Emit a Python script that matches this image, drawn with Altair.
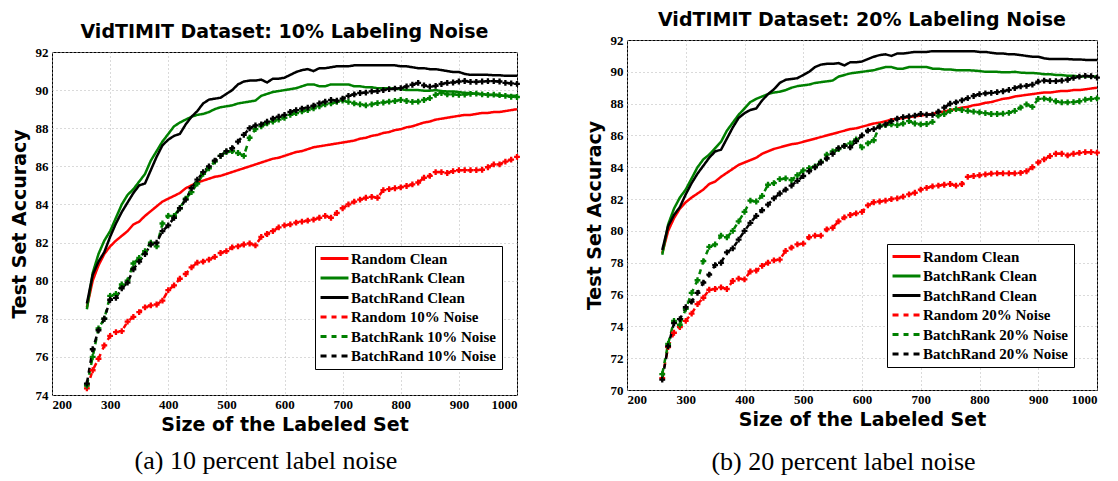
import altair as alt
import pandas as pd

x_vals = list(range(260, 1001, 10))
x_ticks = [200, 300, 400, 500, 600, 700, 800, 900, 1000]
y_ticks_a = [74, 76, 78, 80, 82, 84, 86, 88, 90, 92]
y_ticks_b = [70, 72, 74, 76, 78, 80, 82, 84, 86, 88, 90, 92]

random_clean = [
    78.6, 80.0, 80.8, 81.4, 81.8, 82.1, 82.35, 82.6, 82.95, 83.1,
    83.4, 83.65, 83.9, 84.15, 84.3, 84.45, 84.6, 84.85, 85.0, 85.15,
    85.25, 85.35, 85.45, 85.5, 85.6, 85.7, 85.8, 85.9, 86.0, 86.1,
    86.2, 86.3, 86.4, 86.45, 86.55, 86.65, 86.75, 86.8, 86.9, 87.0,
    87.05, 87.1, 87.15, 87.2, 87.25, 87.3, 87.35, 87.45, 87.5, 87.6,
    87.65, 87.75, 87.8, 87.9, 87.95, 88.05, 88.1, 88.2, 88.3, 88.35,
    88.45, 88.5, 88.55, 88.6, 88.65, 88.7, 88.7, 88.75, 88.8, 88.8,
    88.85, 88.85, 88.9, 88.95, 89.0]
batchrank_clean = [
    78.5, 80.4, 81.4, 82.1, 82.6, 83.3, 84.0, 84.5, 84.8, 85.2,
    85.6, 86.3, 86.8, 87.3, 87.7, 88.1, 88.3, 88.45, 88.6, 88.7,
    88.75, 88.85, 89.0, 89.1, 89.15, 89.2, 89.3, 89.35, 89.4, 89.45,
    89.7, 89.8, 89.9, 89.95, 90.0, 90.05, 90.1, 90.2, 90.3, 90.3,
    90.2, 90.2, 90.3, 90.3, 90.3, 90.3, 90.2, 90.2, 90.15, 90.15,
    90.1, 90.1, 90.1, 90.08, 90.05, 90.0, 90.0, 90.0, 89.97, 89.97,
    90.0, 89.95, 89.93, 89.93, 89.9, 89.85, 89.85, 89.8, 89.8, 89.75,
    89.75, 89.7, 89.7, 89.7, 89.7]
batchrand_clean = [
    78.8, 80.3, 81.0, 81.5, 82.3, 83.0, 83.6, 84.1, 84.6, 85.0,
    85.1, 85.8, 86.5, 87.1, 87.4, 87.6, 87.7, 88.2, 88.6, 88.9,
    89.3, 89.5, 89.55, 89.6, 89.8, 90.0, 90.3, 90.45, 90.5, 90.5,
    90.55, 90.4, 90.6, 90.6, 90.65, 90.8, 90.95, 91.05, 91.1, 91.0,
    91.15, 91.15, 91.2, 91.25, 91.25, 91.25, 91.3, 91.3, 91.3, 91.3,
    91.3, 91.3, 91.3, 91.3, 91.25, 91.25, 91.2, 91.15, 91.15, 91.1,
    91.1, 91.05, 91.0, 90.95, 90.95, 90.85, 90.8, 90.8, 90.8, 90.8,
    90.78, 90.78, 90.75, 90.75, 90.75]

random_n10 = [
    74.35, 75.3, 75.9, 76.6, 77.1, 77.3, 77.35, 77.85, 78.1, 78.35,
    78.6, 78.7, 78.75, 78.95, 79.5, 79.75, 80.1, 80.35, 80.7, 80.95,
    81.0, 81.1, 81.25, 81.45, 81.55, 81.75, 81.8, 81.9, 81.95, 81.85,
    82.3, 82.45, 82.6, 82.8, 82.9, 82.95, 83.05, 83.1, 83.15, 83.2,
    83.3, 83.4, 83.3, 83.55, 83.8, 84.0, 84.15, 84.25, 84.35, 84.4,
    84.35, 84.75, 84.8, 84.85, 84.9, 84.97, 85.05, 85.15, 85.4, 85.5,
    85.7, 85.7, 85.65, 85.75, 85.8, 85.8, 85.8, 85.8, 85.82, 85.95,
    86.1, 86.1, 86.25, 86.35, 86.5]
batchrank_n10 = [
    74.5, 76.0, 77.5, 78.0, 79.2, 79.3, 79.8, 80.0, 80.9, 81.2,
    81.55, 82.0, 81.8, 83.0, 83.4, 83.4, 83.8, 84.3, 84.65, 85.1,
    85.6, 85.9, 86.25, 86.55, 86.75, 86.8, 86.7, 86.55, 87.5, 87.95,
    88.1, 88.25, 88.35, 88.45, 88.55, 88.7, 88.8, 88.88, 88.95, 89.05,
    89.15, 89.25, 89.3, 89.38, 89.45, 89.38, 89.3, 89.25, 89.2, 89.25,
    89.32, 89.35, 89.4, 89.43, 89.48, 89.43, 89.38, 89.4, 89.48, 89.58,
    89.75, 89.85, 89.78, 89.78, 89.75, 89.77, 89.8, 89.82, 89.78, 89.75,
    89.76, 89.74, 89.7, 89.65, 89.64]
batchrand_n10 = [
    74.6, 76.4, 77.4, 78.0, 79.0, 79.1, 79.6, 79.9, 80.6, 81.0,
    81.4, 81.9, 82.0, 82.6, 82.9, 83.3, 83.8, 84.25, 84.85, 85.3,
    85.7, 86.0, 86.3, 86.55, 86.8, 86.95, 87.3, 87.65, 88.0, 88.15,
    88.2, 88.35, 88.5, 88.6, 88.7, 88.85, 88.95, 89.03, 89.08, 89.18,
    89.3, 89.4, 89.48, 89.45, 89.55, 89.7, 89.78, 89.85, 89.87, 89.93,
    89.95, 90.0, 90.05, 90.08, 90.1, 90.2, 90.28, 90.38, 90.25, 90.18,
    90.22, 90.32, 90.38, 90.4, 90.45, 90.48, 90.43, 90.43, 90.45, 90.47,
    90.47, 90.45, 90.38, 90.35, 90.33]

random_n20 = [
    70.75, 72.7, 73.6, 73.95, 74.35, 74.8, 75.4, 75.8, 76.3, 76.35,
    76.45, 76.35, 76.85, 77.0, 76.95, 77.45, 77.5, 77.8, 78.0, 78.15,
    78.2, 78.75, 78.95, 79.15, 79.2, 79.6, 79.7, 79.7, 80.1, 80.2,
    80.6, 80.85, 81.0, 81.1, 81.2, 81.6, 81.8, 81.85, 81.9, 82.0,
    82.05, 82.15, 82.3, 82.4, 82.6, 82.7, 82.8, 82.85, 82.9, 82.95,
    82.85, 82.95, 83.4, 83.45, 83.5, 83.55, 83.6, 83.62, 83.62, 83.62,
    83.62, 83.65, 83.75, 84.0, 84.3, 84.5, 84.7, 84.85, 84.85, 84.75,
    84.85, 84.9, 84.95, 84.95, 84.92]
batchrank_n20 = [
    71.0, 72.9, 74.35, 74.1, 75.1, 76.1, 76.9, 78.1, 79.0, 79.15,
    79.7, 79.6, 80.0, 80.6, 81.2, 81.9, 81.85, 82.2, 82.9, 83.0,
    83.25, 83.3, 83.2, 83.5, 83.8, 83.95, 84.05, 84.35, 84.8, 85.0,
    85.15, 85.35, 85.5, 85.75, 85.25, 85.5, 85.7, 86.6, 86.65, 86.7,
    86.65, 86.75, 86.9, 86.75, 86.7, 86.72, 86.85, 87.25, 87.35, 87.55,
    87.65, 87.6, 87.55, 87.5, 87.45, 87.4, 87.35, 87.35, 87.37, 87.42,
    87.55, 87.75, 87.95, 87.8, 88.3, 88.32, 88.25, 88.15, 88.08, 88.08,
    88.1, 88.15, 88.25, 88.3, 88.33]
batchrand_n20 = [
    70.65, 72.75, 74.2, 74.45, 75.2, 75.55, 76.1, 76.75, 77.25, 77.85,
    78.0, 78.65, 78.9, 79.45, 80.0, 80.5, 80.95, 81.3, 81.65, 82.05,
    82.35, 82.6, 82.85, 83.15, 83.45, 83.75, 84.0, 84.3, 84.55, 84.85,
    85.2, 85.35, 85.25, 85.65, 86.0, 86.3, 86.4, 86.55, 86.7, 86.9,
    87.05, 87.15, 87.2, 87.25, 87.35, 87.3, 87.3, 87.5, 87.75, 88.0,
    88.08, 88.2, 88.35, 88.48, 88.6, 88.65, 88.68, 88.72, 88.78, 88.86,
    88.98, 89.08, 89.12, 89.2, 89.38, 89.45, 89.42, 89.42, 89.45, 89.5,
    89.62, 89.7, 89.74, 89.72, 89.63]

RED, GREEN, BLACK = "#ff0000", "#008000", "#000000"
SERIF = "Liberation Serif"
SANS = "DejaVu Sans"


def panel(noise, noise_series, ydom, yticks, width, height, title_text, title_offset, lx, ly):
    names = ["Random Clean", "BatchRank Clean", "BatchRand Clean",
             f"Random {noise} Noise", f"BatchRank {noise} Noise", f"BatchRand {noise} Noise"]
    series = [random_clean, batchrank_clean, batchrand_clean] + noise_series
    rows = []
    for k, (name, vals) in enumerate(zip(names, series)):
        for xv, yv in zip(x_vals, vals):
            rows.append({"size": xv, "acc": yv, "series": name, "k": k})
    df = pd.DataFrame(rows)

    x = alt.X("size:Q", scale=alt.Scale(domain=[200, 1000], nice=False),
              axis=alt.Axis(values=x_ticks, title="Size of the Labeled Set", format="d"))
    y = alt.Y("acc:Q", scale=alt.Scale(domain=ydom, nice=False, zero=False),
              axis=alt.Axis(values=yticks, title="Test Set Accuracy", format="d"))
    leg = alt.Legend(title=None, orient="none", legendX=lx, legendY=ly,
                     direction="vertical", fillColor="white", strokeColor="black",
                     padding=5, cornerRadius=0, symbolType="M-2.5,0H2.5", symbolSize=125,
                     symbolStrokeWidth=3, labelFont=SERIF, labelFontWeight="bold",
                     labelFontSize=15, labelColor="black", rowPadding=3.5,
                     labelOffset=9, symbolOffset=7, labelLimit=400)
    lines = alt.Chart(df).mark_line(strokeWidth=2.5).encode(
        x=x, y=y,
        color=alt.Color("series:N", sort=names,
                        scale=alt.Scale(domain=names, range=[RED, GREEN, BLACK, RED, GREEN, BLACK]),
                        legend=leg),
        strokeDash=alt.StrokeDash("series:N", sort=names,
                                  scale=alt.Scale(domain=names,
                                                  range=[[1, 0], [1, 0], [1, 0], [6, 5, 5, 5], [6, 5, 5, 5], [6, 5, 5, 5]]),
                                  legend=leg),
        order=alt.Order("k:Q"),
    )
    noise_names = names[3:]
    pts = alt.Chart(df).transform_filter(alt.datum.k >= 3).mark_point(
        filled=True, shape="cross", size=34, opacity=1, strokeWidth=0).encode(
        x=x, y=y,
        fill=alt.Fill("series:N", scale=alt.Scale(domain=noise_names, range=[RED, GREEN, BLACK]),
                      legend=None),
    )
    return alt.layer(lines, pts).properties(
        width=width, height=height,
        title=alt.TitleParams(title_text, font=SANS, fontWeight="bold", fontSize=19,
                              color="black", anchor="middle", offset=title_offset))


def spacer():
    return alt.Chart(pd.DataFrame({"a": [0]})).mark_point(opacity=0, size=1).encode(
        x=alt.X("a:Q", axis=None), y=alt.Y("a:Q", axis=None)
    ).properties(width=10, height=1, view=alt.ViewBackground(stroke="transparent"))


left = panel("10%", [random_n10, batchrank_n10, batchrand_n10], [74, 92], y_ticks_a, 465, 343,
             "VidTIMIT Dataset: 10% Labeling Noise", 4, 263, 240)
right = panel("20%", [random_n20, batchrank_n20, batchrand_n20], [70, 92], y_ticks_b, 470, 350,
              "VidTIMIT Dataset: 20% Labeling Noise", 4, 260, 238)

left_box = alt.VConcatChart(vconcat=[spacer(), left], spacing=14, title=alt.TitleParams(
    "(a) 10 percent label noise", orient="bottom", font=SERIF, fontWeight="normal",
    fontSize=26, color="black", anchor="middle", offset=13))
right_box = alt.VConcatChart(vconcat=[spacer(), right], spacing=2, title=alt.TitleParams(
    "(b) 20 percent label noise", orient="bottom", font=SERIF, fontWeight="normal",
    fontSize=26, color="black", anchor="middle", offset=19))

chart = alt.hconcat(left_box, right_box, spacing=61).resolve_scale(
    color="independent", strokeDash="independent", fill="independent"
).properties(
    padding={"left": 9, "top": 5, "right": 0, "bottom": 0}
).configure_view(stroke="black", strokeWidth=1).configure_axis(
    labelFont=SERIF, labelFontWeight="bold", labelFontSize=13, labelColor="black",
    titleFont=SANS, titleFontWeight="bold", titleFontSize=19, titleColor="black",
    grid=True, gridColor="#b4b4b4", gridDash=[1, 3], gridWidth=1,
    domain=False, ticks=False, labelPadding=4, titlePadding=6
).configure_axisX(labelPadding=3.5, titlePadding=4)

chart.save("out.html", embed_options={"renderer": "svg", "actions": False})
